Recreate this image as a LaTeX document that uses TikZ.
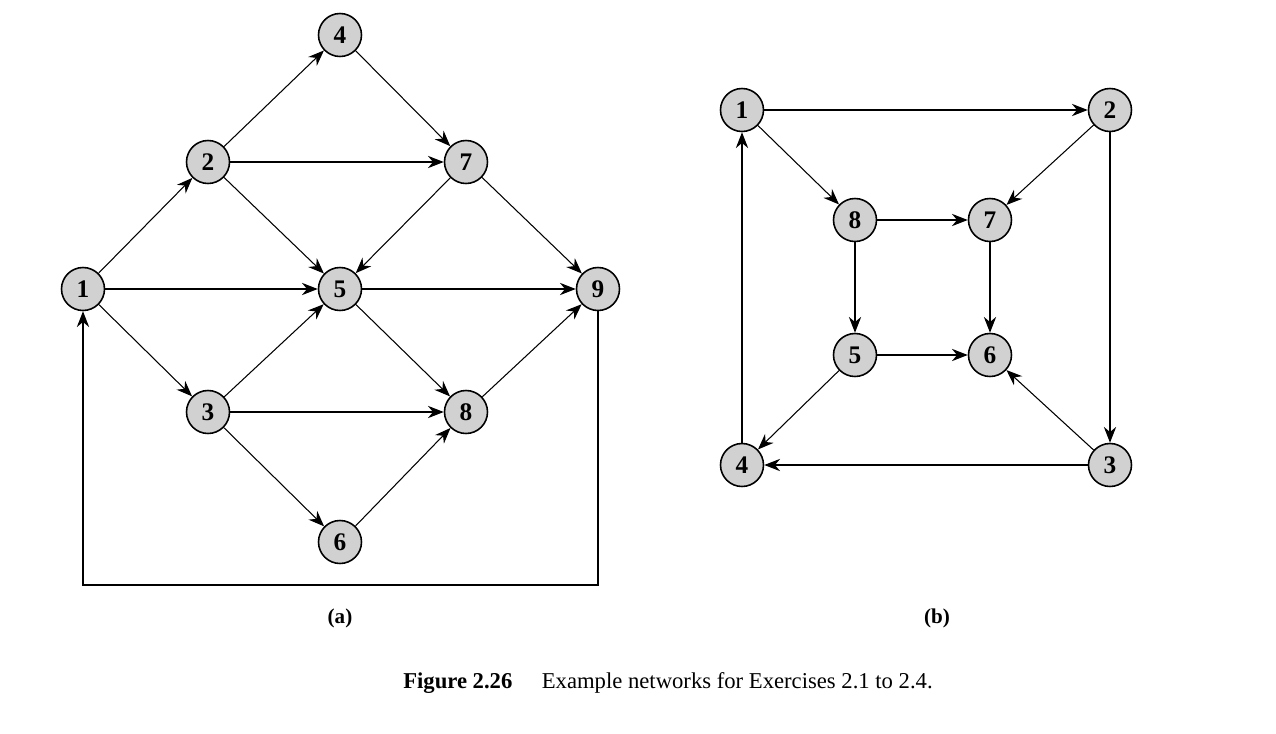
\documentclass[tikz,border=0pt]{standalone}
\usepackage{fontspec}
\setmainfont{Liberation Serif}
\usetikzlibrary{arrows.meta}
\begin{document}
\begin{tikzpicture}[x=0.02cm,y=-0.02cm,
  nd/.style={circle,draw,line width=0.9pt,fill=black!18,minimum size=0.86cm,inner sep=0pt,font=\bfseries\Large},
  ar/.style={-{Stealth[length=9pt,width=7pt]},line width=0.6pt}]
\useasboundingbox (0,0) rectangle (1276,734);
% (a)
\node[nd] (a1) at (83,289) {1};
\node[nd] (a2) at (208,162) {2};
\node[nd] (a3) at (208,412) {3};
\node[nd] (a4) at (340,35) {4};
\node[nd] (a5) at (340,289) {5};
\node[nd] (a6) at (340,542) {6};
\node[nd] (a7) at (466,162) {7};
\node[nd] (a8) at (466,412) {8};
\node[nd] (a9) at (598,289) {9};
\foreach \s/\t in {a1/a2,a1/a5,a1/a3,a2/a4,a2/a7,a2/a5,a4/a7,a7/a5,a7/a9,a5/a9,a5/a8,a3/a5,a3/a8,a3/a6,a6/a8,a8/a9}
  \draw[ar] (\s) -- (\t);
\coordinate (c1) at (598,585);
\coordinate (c2) at (83,585);
\draw[ar] (a9) -- (c1) -- (c2) -- (a1);
% (b)
\node[nd] (b1) at (742,110) {1};
\node[nd] (b2) at (1110,110) {2};
\node[nd] (b8) at (855,220) {8};
\node[nd] (b7) at (990,220) {7};
\node[nd] (b5) at (855,355) {5};
\node[nd] (b6) at (990,355) {6};
\node[nd] (b4) at (742,465) {4};
\node[nd] (b3) at (1110,465) {3};
\foreach \s/\t in {b1/b2,b1/b8,b2/b7,b2/b3,b8/b7,b8/b5,b7/b6,b5/b6,b5/b4,b3/b6,b3/b4,b4/b1}
  \draw[ar] (\s) -- (\t);
\node[font=\bfseries\large] (la) at (340,618) {(a)};
\node[font=\bfseries\large] (lb) at (937,618) {(b)};
\node[font=\fontsize{12.9}{15}\selectfont] (cap) at (668,683) {\textbf{Figure 2.26}\hspace{1.3em}Example networks for Exercises 2.1 to 2.4.};
\end{tikzpicture}
\end{document}
